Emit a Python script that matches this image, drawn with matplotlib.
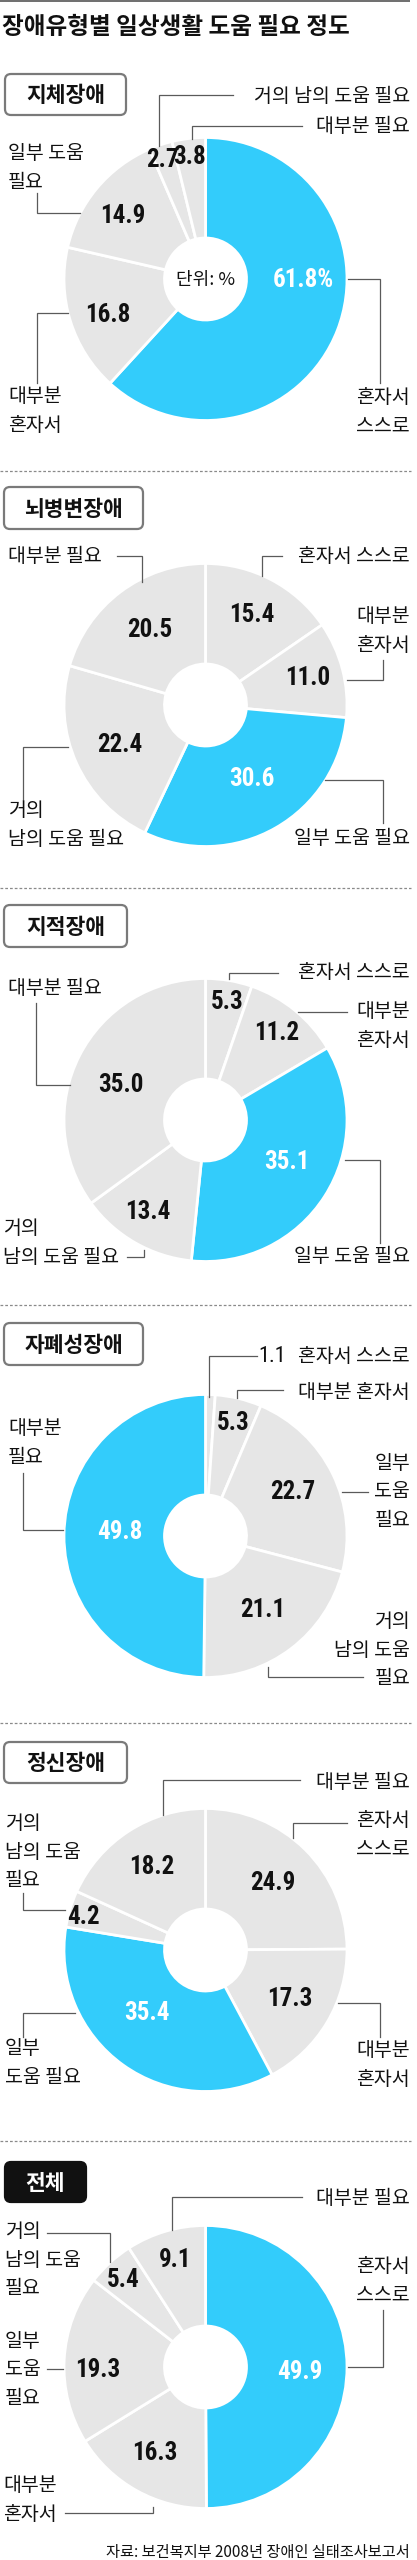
import matplotlib
matplotlib.use('Agg')
import matplotlib.pyplot as plt
from matplotlib import font_manager as fm
from matplotlib.patches import FancyBboxPatch

KR = ['Noto Sans CJK KR', 'DejaVu Sans']


def pick_num_font():
    for fam in ['Liberation Sans Narrow', 'Roboto Condensed', 'Open Sans Condensed']:
        try:
            fm.findfont(fm.FontProperties(family=fam, weight='bold'),
                        fallback_to_default=False)
            return dict(family=[fam, 'DejaVu Sans'])
        except Exception:
            pass
    try:
        path = fm.findfont(fm.FontProperties(family='DejaVu Sans',
                                             stretch='condensed', weight='bold'))
        if 'Condensed' in path:
            return dict(family=['DejaVu Sans'], fontstretch='condensed')
    except Exception:
        pass
    return dict(family=['Roboto', 'DejaVu Sans'])


NUMF = pick_num_font()

# ---------------- data ----------------
title = '장애유형별 일상생활 도움 필요 정도'
source = '자료: 보건복지부 2008년 장애인 실태조사보고서'
unit_text = '단위: %'

categories = ['혼자서 스스로', '대부분 혼자서', '일부 도움 필요', '거의 남의 도움 필요', '대부분 필요']
panel_names = ['지체장애', '뇌병변장애', '지적장애', '자폐성장애', '정신장애', '전체']

jiche_values = [61.8, 16.8, 14.9, 2.7, 3.8]
noebyeongbyeon_values = [15.4, 11.0, 30.6, 22.4, 20.5]
jijeok_values = [5.3, 11.2, 35.1, 13.4, 35.0]
japye_values = [1.1, 5.3, 22.7, 21.1, 49.8]
jeongsin_values = [24.9, 17.3, 35.4, 4.2, 18.2]
total_values = [49.9, 16.3, 19.3, 5.4, 9.1]

all_values = [jiche_values, noebyeongbyeon_values, jijeok_values,
              japye_values, jeongsin_values, total_values]
highlight_index = [0, 2, 2, 4, 2, 0]

# ---------------- layout (pixels) ----------------
BLUE = '#33CCFB'
GRAY = '#E6E6E6'
LINE = '#5A5A5A'
CX, R, R_IN = 205.5, 141.5, 41

layouts = [
    dict(cy=279, sep=None, box=(5, 74, 121, 41), dark=False,
         vpos=[(303, 280), (108, 315), (123, 216), (162, 160), (190, 157)],
         lab=[(410, 412, 'right', [1, 1]), (8, 411, 'left', [1, 1]),
              (8, 168, 'left', [2, 1]), (410, 97, 'right', [4]),
              (410, 127, 'right', [2])],
         lead=[[(348, 279), (380, 279), (380, 383)],
               [(68, 313), (37, 313), (37, 383)],
               [(80, 213), (37, 213), (37, 193)],
               [(233, 95), (159, 95), (159, 146)],
               [(302, 126), (192, 126), (192, 139)]],
         suffix='%', unit=True, inline=None),
    dict(cy=705, sep=471, box=(4, 487, 139, 42), dark=False,
         vpos=[(252, 615), (308, 678), (252, 779), (120, 745), (150, 630)],
         lab=[(410, 556, 'right', [2]), (410, 631, 'right', [1, 1]),
              (410, 838, 'right', [3]), (8, 825, 'left', [1, 3]),
              (8, 556, 'left', [2])],
         lead=[[(282, 556), (262, 556), (262, 576)],
               [(383, 660), (383, 680), (347, 680)],
               [(383, 823), (383, 780), (325, 780)],
               [(23, 800), (23, 747), (68, 747)],
               [(117, 556), (142, 556), (142, 582)]],
         suffix='', unit=False, inline=None),
    dict(cy=1120, sep=888, box=(4, 905, 123, 42), dark=False,
         vpos=[(227, 1002), (277, 1033), (287, 1162), (148, 1212), (121, 1085)],
         lab=[(410, 972, 'right', [2]), (410, 1026, 'right', [1, 1]),
              (410, 1257, 'right', [3]), (3, 1243, 'left', [1, 3]),
              (8, 988, 'left', [2])],
         lead=[[(278, 973), (229, 973), (229, 979)],
               [(347, 1012), (298, 1012)],
               [(380, 1243), (380, 1160), (345, 1160)],
               [(127, 1257), (144, 1257), (144, 1250)],
               [(36, 1003), (36, 1085), (70, 1085)]],
         suffix='', unit=False, inline=None),
    dict(cy=1536, sep=1305, box=(4, 1323, 139, 42), dark=False,
         vpos=[(258, 1357), (233, 1423), (293, 1492), (263, 1610), (120, 1532)],
         lab=[(410, 1357, 'right', [2]), (410, 1392, 'right', [2]),
              (410, 1492, 'right', [1, 1, 1]), (410, 1650, 'right', [1, 2, 1]),
              (8, 1443, 'left', [1, 1])],
         lead=[[(257, 1356), (209, 1356), (209, 1397)],
               [(283, 1390), (237, 1390), (237, 1398)],
               [(368, 1492), (342, 1492)],
               [(363, 1677), (268, 1677), (268, 1667)],
               [(23, 1473), (23, 1530), (63, 1530)]],
         suffix='', unit=False, inline=0),
    dict(cy=1950, sep=1723, box=(4, 1742, 123, 41), dark=False,
         vpos=[(273, 1883), (290, 1999), (147, 2013), (83, 1917), (152, 1867)],
         lab=[(410, 1835, 'right', [1, 1]), (410, 2065, 'right', [1, 1]),
              (5, 2063, 'left', [1, 2]), (5, 1852, 'left', [1, 2, 1]),
              (410, 1782, 'right', [2])],
         lead=[[(347, 1823), (293, 1823), (293, 1838)],
               [(338, 2003), (380, 2003), (380, 2037)],
               [(23, 2037), (23, 2013), (75, 2013)],
               [(23, 1893), (23, 1910), (65, 1910)],
               [(300, 1780), (163, 1780), (163, 1815)]],
         suffix='', unit=False, inline=None),
    dict(cy=2367, sep=2141, box=(5, 2162, 81, 40), dark=True,
         vpos=[(300, 2372), (155, 2453), (98, 2370), (123, 2280), (175, 2260)],
         lab=[(410, 2281, 'right', [1, 1]), (3, 2500, 'left', [1, 1]),
              (5, 2370, 'left', [1, 1, 1]), (5, 2260, 'left', [1, 2, 1]),
              (410, 2198, 'right', [2])],
         lead=[[(383, 2310), (383, 2367), (348, 2367)],
               [(65, 2513), (153, 2513), (153, 2507)],
               [(47, 2369), (63, 2369)],
               [(47, 2233), (110, 2233), (110, 2262)],
               [(302, 2197), (172, 2197), (172, 2230)]],
         suffix='', unit=False, inline=None),
]


def wrap(text, split):
    words = text.split(' ')
    out, i = [], 0
    for n in split:
        out.append(' '.join(words[i:i + n]))
        i += n
    return '\n'.join(out)


W, H = 417, 2560
fig = plt.figure(figsize=(W / 100, H / 100), dpi=100)
ax = fig.add_axes([0, 0, 1, 1])

# top rule and title
ax.plot([0, 410], [0.8, 0.8], color='#555555', lw=1.2, solid_capstyle='butt')
ax.text(2, 27, title, family=KR, fontsize=17, fontweight='bold',
        ha='left', va='center', color='#111111')

for k, (name, vals, hi, L) in enumerate(zip(panel_names, all_values,
                                            highlight_index, layouts)):
    cy = L['cy']
    if L['sep'] is not None:
        ax.plot([0, 411], [L['sep'], L['sep']], color='#8A8A8A', lw=0.9,
                dashes=(2.2, 1.6))
    bx, by, bw, bh = L['box']
    box = FancyBboxPatch((bx, by), bw, bh,
                         boxstyle='round,pad=0,rounding_size=6',
                         facecolor='#111111' if L['dark'] else 'white',
                         edgecolor='#111111' if L['dark'] else '#7A7A7A',
                         lw=1.6)
    ax.add_patch(box)
    ax.text(bx + bw / 2, by + bh / 2 + 1, name, family=KR, fontsize=15.5,
            fontweight='bold', ha='center', va='center',
            color='white' if L['dark'] else '#111111')

    colors = [BLUE if i == hi else GRAY for i in range(len(vals))]
    ax.pie(vals, colors=colors, startangle=-90, counterclock=True,
           center=(CX, cy), radius=R,
           wedgeprops=dict(width=R - R_IN, edgecolor='white', linewidth=2.0))

    if L['unit']:
        ax.text(CX, cy + 1, unit_text, family=KR, fontsize=13,
                ha='center', va='center', color='#111111')

    for i, v in enumerate(vals):
        x, y = L['vpos'][i]
        s = f'{v:.1f}' + (L['suffix'] if i == hi else '')
        if L['inline'] == i:
            ax.text(x, y, s, fontsize=16, ha='left',
                    va='center', color='#111111', **NUMF)
        else:
            ax.text(x, y, s, fontsize=18, fontweight='bold',
                    ha='center', va='center',
                    color='white' if i == hi else '#111111', **NUMF)

    for i, cat in enumerate(categories):
        x, y, ha, split = L['lab'][i]
        ax.text(x, y, wrap(cat, split), family=KR, fontsize=14, ha=ha,
                va='center', multialignment=ha, linespacing=1.45,
                color='#111111')
        pts = L['lead'][i]
        ax.plot([p[0] for p in pts], [p[1] for p in pts], color=LINE,
                lw=0.9, solid_joinstyle='miter')

ax.text(410, 2552, source, family=KR, fontsize=11, ha='right',
        va='center', color='#111111')

ax.set_xlim(0, W)
ax.set_ylim(H, 0)
ax.set_aspect('auto')
ax.axis('off')
fig.savefig('out.png', dpi=100, facecolor='white')
